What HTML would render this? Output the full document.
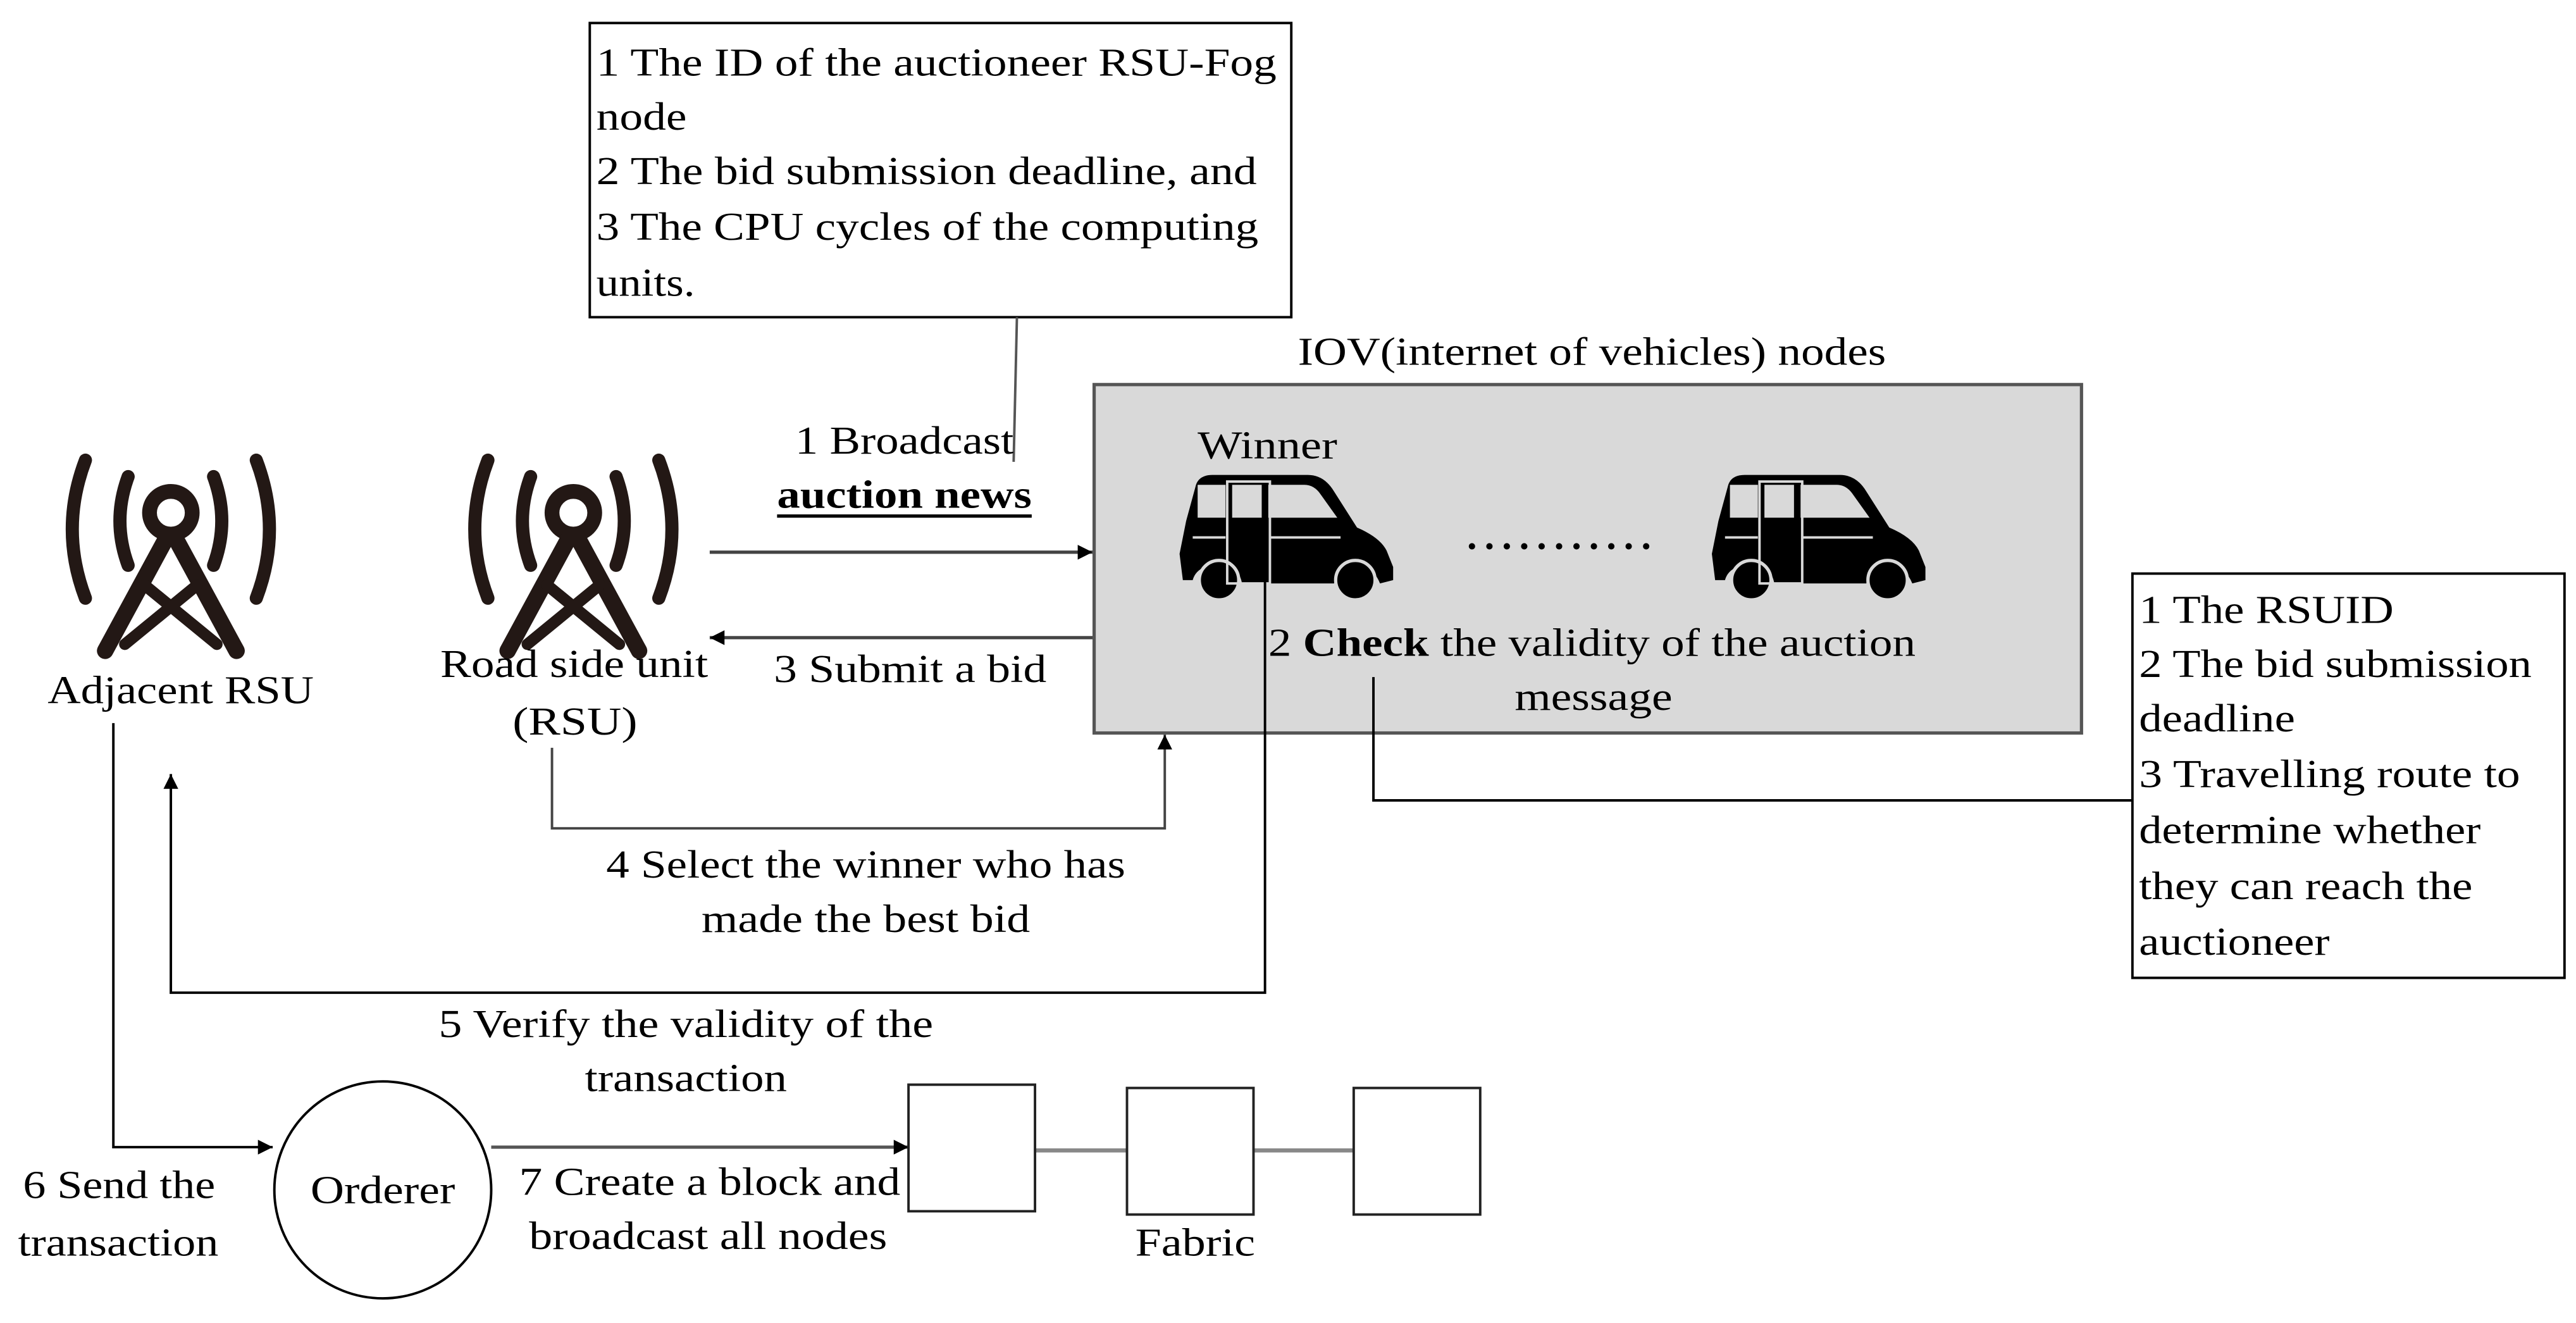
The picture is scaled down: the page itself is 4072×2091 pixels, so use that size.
<!DOCTYPE html>
<html><head><meta charset="utf-8"><style>
html,body{margin:0;padding:0;background:#fff;}
svg{display:block}
text{font-family:"Liberation Serif",serif;font-size:24px;fill:#000}
</style></head><body>
<svg width="4072" height="2091" viewBox="0 0 1568 805" preserveAspectRatio="none" xmlns="http://www.w3.org/2000/svg">
<defs>
<marker id="ah" viewBox="0 0 10 10" refX="10" refY="5" markerWidth="9" markerHeight="9" markerUnits="userSpaceOnUse" orient="auto"><path d="M0,0 L10,5 L0,10 z" fill="#000"/></marker>
<g id="tower" fill="none" stroke="#231815" stroke-linecap="round">
<circle cx="0" cy="312" r="13" stroke-width="9"/>
<path d="M-26,290 Q-36,317 -26,344 M26,290 Q36,317 26,344" stroke-width="8"/>
<path d="M-52,280 Q-68,322 -52,364 M52,280 Q68,322 52,364" stroke-width="8"/>
<path d="M-2,326 L-40,396 M2,326 L40,396" stroke-width="10"/>
<path d="M-16,356 L28,392 M16,356 L-28,392" stroke-width="7"/>
</g>
<g id="car">
<path d="M10,8 Q12,2 20,2 L78,2 Q88,2 94,12 L108,34 Q122,40 126,48 L130,58 L130,66 L122,68 Q118,58 108,56 Q98,56 94,68 L38,68 Q36,56 22,56 Q10,58 8,66 L2,66 L0,50 L4,30 Z" fill="#000"/>
<circle cx="24" cy="66" r="12" fill="#000" stroke="#d9d9d9" stroke-width="2"/>
<circle cx="107" cy="66" r="12" fill="#000" stroke="#d9d9d9" stroke-width="2"/>
<rect x="11" y="8" width="17" height="20" fill="#d9d9d9"/>
<rect x="32" y="8" width="18" height="20" fill="#d9d9d9"/>
<path d="M54,8 L76,8 Q82,8 86,14 L96,28 L54,28 Z" fill="#d9d9d9"/>
<rect x="29" y="6" width="26" height="62" fill="none" stroke="#d9d9d9" stroke-width="1.5"/>
<path d="M8,40 L28,40 M55,40 L98,40" stroke="#d9d9d9" stroke-width="1.5"/>
</g>
</defs>

<!-- top box -->
<rect x="359" y="14" width="427" height="179" fill="#fff" stroke="#000" stroke-width="1.5"/>
<text x="363" y="46" textLength="414" lengthAdjust="spacingAndGlyphs">1 The ID of the auctioneer RSU-Fog</text>
<text x="363" y="79" textLength="55" lengthAdjust="spacingAndGlyphs">node</text>
<text x="363" y="112" textLength="402" lengthAdjust="spacingAndGlyphs">2 The bid submission deadline, and</text>
<text x="363" y="146" textLength="403" lengthAdjust="spacingAndGlyphs">3 The CPU cycles of the computing</text>
<text x="363" y="180" textLength="60" lengthAdjust="spacingAndGlyphs">units.</text>
<line x1="619" y1="193" x2="617" y2="281" stroke="#555" stroke-width="1.5"/>

<text x="484" y="276" textLength="133" lengthAdjust="spacingAndGlyphs">1 Broadcast</text>
<text x="473" y="309" font-weight="bold" textLength="155" lengthAdjust="spacingAndGlyphs">auction news</text>
<line x1="473" y1="314" x2="628" y2="314" stroke="#000" stroke-width="2"/>

<!-- IOV box -->
<text x="790" y="222" textLength="358" lengthAdjust="spacingAndGlyphs">IOV(internet of vehicles) nodes</text>
<rect x="666" y="234" width="601" height="212" fill="#d9d9d9" stroke="#555" stroke-width="2"/>
<text x="729" y="279" textLength="85" lengthAdjust="spacingAndGlyphs">Winner</text>
<use href="#car" x="718" y="287"/>
<use href="#car" x="1042" y="287"/>
<text x="893" y="334" font-weight="bold" textLength="112" lengthAdjust="spacing">...........</text>
<text x="772" y="399" textLength="394" lengthAdjust="spacingAndGlyphs"><tspan>2 </tspan><tspan font-weight="bold">Check</tspan><tspan> the validity of the auction</tspan></text>
<text x="922" y="432" textLength="96" lengthAdjust="spacingAndGlyphs">message</text>

<line x1="432" y1="336" x2="665" y2="336" stroke="#444" stroke-width="2" marker-end="url(#ah)"/>
<line x1="665" y1="388" x2="432" y2="388" stroke="#444" stroke-width="2" marker-end="url(#ah)"/>
<text x="471" y="415" textLength="166" lengthAdjust="spacingAndGlyphs">3 Submit a bid</text>

<!-- towers -->
<use href="#tower" x="104" y="0"/>
<use href="#tower" x="349" y="0"/>
<text x="29" y="428" textLength="162" lengthAdjust="spacingAndGlyphs">Adjacent RSU</text>
<text x="268" y="412" textLength="163" lengthAdjust="spacingAndGlyphs">Road side unit</text>
<text x="312" y="447" textLength="76" lengthAdjust="spacingAndGlyphs">(RSU)</text>

<!-- 4 -->
<polyline points="336,455 336,504 709,504 709,447" fill="none" stroke="#444" stroke-width="1.5" marker-end="url(#ah)"/>
<text x="369" y="534" textLength="316" lengthAdjust="spacingAndGlyphs">4 Select the winner who has</text>
<text x="427" y="567" textLength="200" lengthAdjust="spacingAndGlyphs">made the best bid</text>

<!-- 2 -> right box -->
<polyline points="836,412 836,487 1298,487" fill="none" stroke="#000" stroke-width="1.5"/>
<rect x="1298" y="349" width="263" height="246" fill="#fff" stroke="#000" stroke-width="1.5"/>
<text x="1302" y="379" textLength="155" lengthAdjust="spacingAndGlyphs">1 The RSUID</text>
<text x="1302" y="412" textLength="239" lengthAdjust="spacingAndGlyphs">2 The bid submission</text>
<text x="1302" y="445" textLength="95" lengthAdjust="spacingAndGlyphs">deadline</text>
<text x="1302" y="479" textLength="232" lengthAdjust="spacingAndGlyphs">3 Travelling route to</text>
<text x="1302" y="513" textLength="208" lengthAdjust="spacingAndGlyphs">determine whether</text>
<text x="1302" y="547" textLength="203" lengthAdjust="spacingAndGlyphs">they can reach the</text>
<text x="1302" y="581" textLength="116" lengthAdjust="spacingAndGlyphs">auctioneer</text>

<!-- 5 -->
<polyline points="770,350 770,604 104,604 104,471" fill="none" stroke="#000" stroke-width="1.5" marker-end="url(#ah)"/>
<text x="267" y="631" textLength="301" lengthAdjust="spacingAndGlyphs">5 Verify the validity of the</text>
<text x="356" y="664" textLength="123" lengthAdjust="spacingAndGlyphs">transaction</text>

<!-- 6 -->
<polyline points="69,440 69,698 166,698" fill="none" stroke="#000" stroke-width="1.5" marker-end="url(#ah)"/>
<text x="14" y="729" textLength="117" lengthAdjust="spacingAndGlyphs">6 Send the</text>
<text x="11" y="764" textLength="122" lengthAdjust="spacingAndGlyphs">transaction</text>
<circle cx="233" cy="724" r="66" fill="#fff" stroke="#000" stroke-width="1.5"/>
<text x="189" y="732" textLength="88" lengthAdjust="spacingAndGlyphs">Orderer</text>

<!-- 7 -->
<line x1="299" y1="698" x2="553" y2="698" stroke="#555" stroke-width="2" marker-end="url(#ah)"/>
<text x="316" y="727" textLength="232" lengthAdjust="spacingAndGlyphs">7 Create a block and</text>
<text x="322" y="760" textLength="218" lengthAdjust="spacingAndGlyphs">broadcast all nodes</text>
<line x1="630" y1="700" x2="686" y2="700" stroke="#888" stroke-width="2.5"/>
<line x1="763" y1="700" x2="824" y2="700" stroke="#888" stroke-width="2.5"/>
<rect x="553" y="660" width="77" height="77" fill="#fff" stroke="#222" stroke-width="1.5"/>
<rect x="686" y="662" width="77" height="77" fill="#fff" stroke="#222" stroke-width="1.5"/>
<rect x="824" y="662" width="77" height="77" fill="#fff" stroke="#222" stroke-width="1.5"/>
<text x="691" y="764" textLength="73" lengthAdjust="spacingAndGlyphs">Fabric</text>
</svg>
</body></html>
